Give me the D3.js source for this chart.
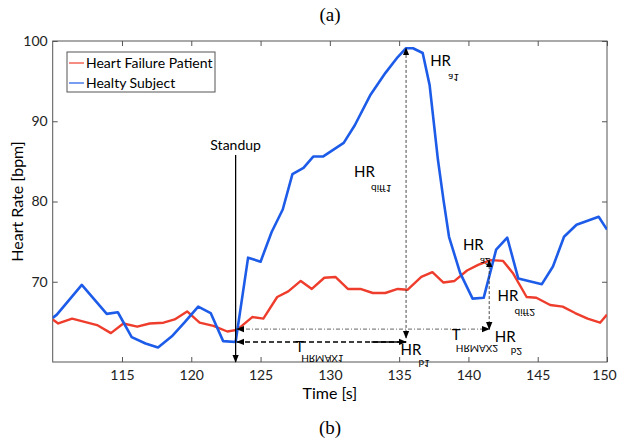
<!DOCTYPE html>
<html>
<head>
<meta charset="utf-8">
<script src="https://cdn.jsdelivr.net/npm/d3@7"></script>
<style>
  body { margin: 0; background: #fff; }
  svg { display: block; }
</style>
</head>
<body>
<div id="chart"></div>
<script>
// Heart rate traces (time in s, bpm)
var failureTime = [110, 110.4, 111.4, 113.2, 114.2, 115.1, 116.1, 117.0, 118.0, 118.8, 119.7, 120.6, 121.6, 122.6, 123.3,
    124.4, 125.2, 126.2, 127.0, 127.9, 128.7, 129.6, 130.4, 131.3, 132.2, 133.1, 134.0, 134.9, 135.6, 136.6, 137.4,
    138.2, 139.0, 139.9, 140.7, 141.6, 142.5, 143.2, 144.2, 144.9, 145.9, 146.8, 147.7, 148.6, 149.5, 150];
var failureHR = [65.3, 64.8, 65.4, 64.6, 63.6, 64.8, 64.4, 64.8, 64.9, 65.3, 66.3, 64.9, 64.5, 63.8, 64.0,
    65.6, 65.4, 68.1, 68.8, 70.1, 69.1, 70.5, 70.6, 69.1, 69.1, 68.6, 68.6, 69.1, 69.0, 70.6, 71.2,
    69.9, 70.1, 71.4, 72.1, 72.7, 72.6, 71.1, 68.1, 68.0, 67.1, 66.9, 66.1, 65.4, 64.9, 65.9];

var healthyTime = [110, 110.3, 112.1, 113.9, 114.7, 115.7, 116.7, 117.6, 118.6, 119.5, 120.5, 121.4, 122.3, 123.2,
    124.1, 125.0, 125.8, 126.6, 127.3, 128.1, 128.8, 129.5, 131.0, 131.8, 132.9, 134.0, 134.9, 135.5, 136.0, 136.7,
    137.2, 137.8, 138.2, 138.6, 139.4, 140.3, 141.1, 142.0, 142.8, 143.6, 145.3, 146.1, 146.9, 147.8, 149.4, 150];
var healthyHR = [65.5, 65.9, 69.6, 66.0, 66.2, 63.1, 62.3, 61.8, 63.2, 64.9, 66.9, 66.1, 62.6, 62.5,
    73.0, 72.5, 76.2, 79.0, 83.4, 84.2, 85.6, 85.6, 87.3, 89.5, 93.2, 96.0, 98.0, 99.1, 99.1, 98.5,
    94.5, 85.2, 80.2, 75.6, 71.1, 67.9, 68.0, 74.0, 75.5, 70.4, 69.7, 71.9, 75.6, 77.1, 78.1, 76.5];

var seriesNames = ['Heart Failure Patient', 'Healty Subject'];
var xTicks = [115, 120, 125, 130, 135, 140, 145, 150];
var yTicks = [70, 80, 90, 100];

// annotation lines in data units [t1, v1, t2, v2]
var standupLine = [123.2, 85.8, 123.2, 60];
var peakLine = [135.5, 63.0, 135.5, 99.1];
var riseLine = [123.3, 62.5, 135.5, 62.5];
var baseLine = [123.3, 64.1, 141.5, 64.1];
var secondLine = [141.5, 64.1, 141.5, 72.7];

// labels: main text, subscript (drawn flipped like in the scan), position
var labels = [
    {text: 'HR', sub: 'a1', t: 137.24, v: 96.9, dx: 18, dy: 8},
    {text: 'HR', sub: 'diff1', t: 131.75, v: 83.1, dx: 17, dy: 8},
    {text: 'HR', sub: 'a2', t: 139.6, v: 74.0, dx: 17, dy: 8},
    {text: 'HR', sub: 'diff2', t: 142.1, v: 67.6, dx: 17, dy: 8},
    {text: 'HR', sub: 'b2', t: 141.9, v: 62.5, dx: 16, dy: 6},
    {text: 'T', sub: 'HRMAX2', t: 138.8, v: 62.8, dx: 4, dy: 5},
    {text: 'HR', sub: 'b1', t: 135.1, v: 60.9, dx: 18, dy: 5},
    {text: 'T', sub: 'HRMAX1', t: 127.5, v: 61.2, dx: 6, dy: 3}
];

var width = 618, height = 440;
var margin = {left: 52.7, right: 11, top: 41, bottom: 78};
var font = 'Lato, "Open Sans", sans-serif';
var red = '#ee3d2c', blue = '#1d5ce8';

var svg = d3.select('#chart').append('svg')
    .attr('width', width).attr('height', height)
    .style('font-family', font);

var x = d3.scaleLinear().domain([110, 150]).range([margin.left, width - margin.right]);
var y = d3.scaleLinear().domain([60, 100]).range([height - margin.bottom, margin.top]);

var x0 = x.range()[0], x1 = x.range()[1], y0 = y.range()[0], y1 = y.range()[1];

// panel captions
svg.append('text').attr('x', 330).attr('y', 21).attr('text-anchor', 'middle')
    .style('font-family', '"Liberation Serif", serif').style('font-size', '19px').text('(a)');
svg.append('text').attr('x', 330).attr('y', 434).attr('text-anchor', 'middle')
    .style('font-family', '"Liberation Serif", serif').style('font-size', '19px').text('(b)');

// axes, matlab style: ticks inside on all four sides
var axisColor = '#555';
function styleAxis(g) {
    g.select('.domain').remove();
    g.selectAll('line').attr('stroke', axisColor);
    g.selectAll('text').style('font-family', font).style('font-size', '14px').attr('fill', '#222');
}

var bottomAxis = svg.append('g').attr('transform', 'translate(0,' + y0 + ')')
    .call(d3.axisBottom(x).tickValues(xTicks).tickSize(-5).tickPadding(8))
    .call(styleAxis);
// last label sits right at the window edge, nudge it in a bit
bottomAxis.selectAll('.tick text').filter(function(d) { return d === 150; })
    .attr('dx', -3);

svg.append('g').attr('transform', 'translate(0,' + y1 + ')')
    .call(d3.axisTop(x).tickValues(xTicks).tickSize(-5).tickFormat(''))
    .call(styleAxis);
svg.append('g').attr('transform', 'translate(' + x0 + ',0)')
    .call(d3.axisLeft(y).tickValues(yTicks).tickSize(-5).tickPadding(5))
    .call(styleAxis);
svg.append('g').attr('transform', 'translate(' + x1 + ',0)')
    .call(d3.axisRight(y).tickValues(yTicks).tickSize(-5).tickFormat(''))
    .call(styleAxis);

svg.append('rect')
    .attr('x', x0).attr('y', y1)
    .attr('width', x1 - x0).attr('height', y0 - y1)
    .attr('fill', 'none').attr('stroke', axisColor).attr('stroke-width', 1);

svg.append('text').attr('x', (x0 + x1) / 2).attr('y', 399).attr('text-anchor', 'middle')
    .style('font-size', '16px').text('Time [s]');
svg.append('text')
    .attr('transform', 'translate(23,' + ((y0 + y1) / 2) + ') rotate(-90)')
    .attr('text-anchor', 'middle')
    .style('font-size', '16px').text('Heart Rate [bpm]');

// series
var line = d3.line()
    .x(function(d) { return x(d[0]); })
    .y(function(d) { return y(d[1]); });

svg.append('clipPath').attr('id', 'plot-clip').append('rect')
    .attr('x', x0).attr('y', y1).attr('width', x1 - x0).attr('height', y0 - y1);

svg.append('path')
    .datum(d3.zip(failureTime, failureHR))
    .attr('d', line)
    .attr('clip-path', 'url(#plot-clip)')
    .attr('fill', 'none').attr('stroke', red).attr('stroke-width', 2.4)
    .attr('stroke-linejoin', 'round');

svg.append('path')
    .datum(d3.zip(healthyTime, healthyHR))
    .attr('d', line)
    .attr('clip-path', 'url(#plot-clip)')
    .attr('fill', 'none').attr('stroke', blue).attr('stroke-width', 2.6)
    .attr('stroke-linejoin', 'round');

// arrowheads
var defs = svg.append('defs');
defs.append('marker').attr('id', 'arrow')
    .attr('viewBox', '0 0 10 10').attr('refX', 9).attr('refY', 5)
    .attr('markerWidth', 8).attr('markerHeight', 8)
    .attr('markerUnits', 'userSpaceOnUse')
    .attr('orient', 'auto-start-reverse')
    .append('path').attr('d', 'M0,1 L10,5 L0,9 Z').attr('fill', '#000');

function annot(c, opts) {
    var l = svg.append('line')
        .attr('x1', x(c[0])).attr('y1', y(c[1]))
        .attr('x2', x(c[2])).attr('y2', y(c[3]))
        .attr('stroke', opts.color || '#000')
        .attr('stroke-width', opts.width || 1);
    if (opts.dash) l.attr('stroke-dasharray', opts.dash);
    if (opts.start) l.attr('marker-start', 'url(#arrow)');
    if (opts.end) l.attr('marker-end', 'url(#arrow)');
    return l;
}

annot(standupLine, {width: 1.3, end: true});
annot(peakLine, {dash: '3,2', width: 0.9, color: '#333', start: true, end: true});
annot(baseLine, {dash: '4,2,1,2', width: 0.9, color: '#555', start: true, end: true});
annot(secondLine, {dash: '3,2', width: 0.9, color: '#333', start: true, end: true});
annot(riseLine, {dash: '5,3', width: 1.5, start: true, end: true});
// the right part of the lower arrow is solid in the figure
annot([133, riseLine[1], riseLine[2], riseLine[3]], {width: 1.6});

svg.append('text')
    .attr('x', x(standupLine[0])).attr('y', y(standupLine[1]) - 5)
    .attr('text-anchor', 'middle')
    .style('font-size', '14px').text('Standup');

var lab = svg.append('g').selectAll('g').data(labels).enter().append('g');
lab.append('text')
    .attr('x', function(d) { return x(d.t); })
    .attr('y', function(d) { return y(d.v); })
    .style('font-size', '15px')
    .text(function(d) { return d.text; });
lab.append('text')
    .attr('transform', function(d) {
        return 'translate(' + (x(d.t) + d.dx) + ',' + (y(d.v) + d.dy) + ') scale(1,-1)';
    })
    .style('font-size', '10px')
    .text(function(d) { return d.sub; });

// legend
var legend = svg.append('g').attr('transform', 'translate(67,52)');
legend.append('rect')
    .attr('width', 148).attr('height', 40)
    .attr('fill', '#fff').attr('stroke', '#555');
legend.selectAll('.item').data(seriesNames).enter().append('g')
    .attr('transform', function(d, i) { return 'translate(0,' + (11 + i * 20) + ')'; })
    .each(function(d, i) {
        var g = d3.select(this);
        g.append('line').attr('x1', 2).attr('x2', 17)
            .attr('stroke', i === 0 ? red : blue).attr('stroke-width', 1.2);
        g.append('text').attr('x', 19).attr('y', 5)
            .style('font-size', '14px').text(d);
    });
</script>
</body>
</html>
